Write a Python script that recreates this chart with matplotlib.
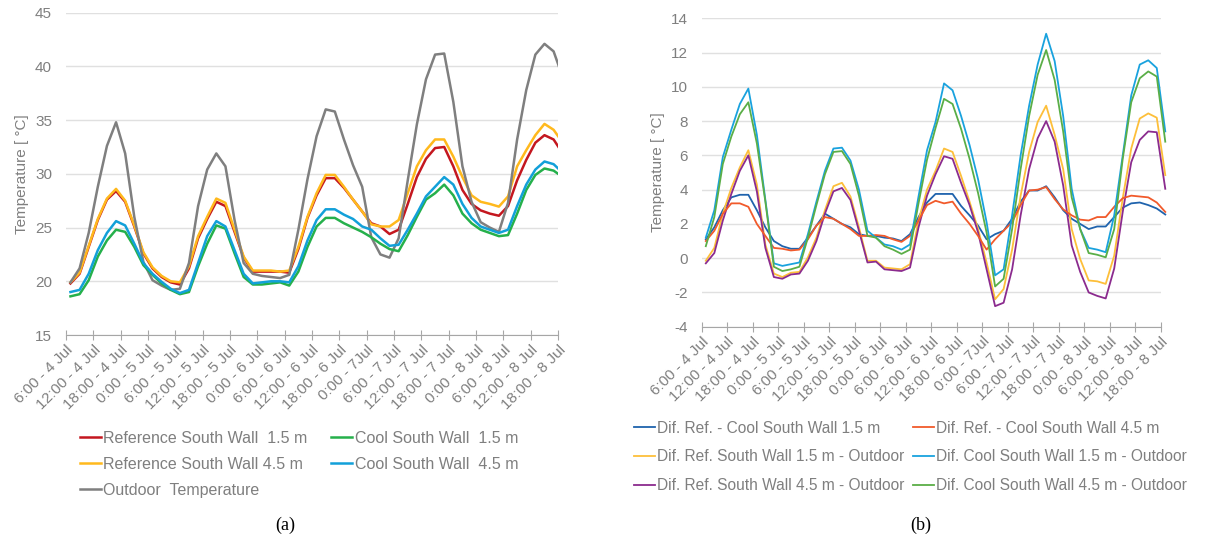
import numpy as np
import matplotlib
matplotlib.use('Agg')
import matplotlib.pyplot as plt

plt.rcParams['font.family'] = ['Liberation Sans', 'DejaVu Sans']
plt.rcParams['axes.unicode_minus'] = False

# hours after 6:00 on 4 Jul (one reading every 2 h)
hours = np.arange(1, 110, 2)
tick_hours = np.arange(0, 109, 6)
tick_labels = ['6:00 - 4 Jul', '12:00 - 4 Jul', '18:00 - 4 Jul', '0:00 - 5 Jul',
               '6:00 - 5 Jul', '12:00 - 5 Jul', '18:00 - 5 Jul', '0:00 - 6 Jul',
               '6:00 - 6 Jul', '12:00 - 6 Jul', '18:00 - 6 Jul', '0:00 - 7Jul',
               '6:00 - 7 Jul', '12:00 - 7 Jul', '18:00 - 7 Jul', '0:00 - 8 Jul',
               '6:00 - 8 Jul', '12:00 - 8 Jul', '18:00 - 8 Jul']

# (a) temperatures, degC
ref_15 = [19.8, 20.7, 23.2, 25.7, 27.6, 28.4, 27.4, 25.1, 22.6, 21.2, 20.4, 19.9, 19.7, 21.2,
          24.0, 25.8, 27.4, 27.0, 24.6, 22.2, 20.9, 20.9, 20.9, 20.9, 20.8, 23.0, 25.9, 28.0,
          29.6, 29.6, 28.7, 27.6, 26.5, 25.4, 25.1, 24.4, 24.8, 27.2, 29.7, 31.4, 32.4, 32.5,
          30.7, 28.5, 27.2, 26.6, 26.3, 26.1, 27.0, 29.4, 31.3, 32.9, 33.6, 33.2, 31.9]
ref_45 = [19.9, 20.8, 23.3, 25.8, 27.7, 28.6, 27.5, 25.2, 22.7, 21.3, 20.5, 20.0, 19.9, 21.4,
          24.2, 26.0, 27.7, 27.3, 24.8, 22.3, 21.0, 21.0, 21.0, 20.9, 21.0, 23.2, 26.0, 28.2,
          29.9, 29.9, 28.8, 27.6, 26.5, 25.3, 25.1, 25.1, 25.7, 28.2, 30.7, 32.2, 33.2, 33.2,
          31.6, 29.7, 28.0, 27.4, 27.2, 26.95, 27.9, 30.7, 32.2, 33.6, 34.65, 34.1, 32.9]
cool_15 = [18.6, 18.8, 20.1, 22.3, 23.8, 24.8, 24.6, 23.2, 21.5, 20.6, 19.8, 19.2, 18.8, 19.0,
           21.4, 23.5, 25.2, 24.9, 22.6, 20.4, 19.7, 19.7, 19.8, 19.9, 19.6, 20.9, 23.2, 25.1,
           25.9, 25.9, 25.4, 25.0, 24.6, 24.1, 23.5, 23.0, 22.8, 24.3, 26.0, 27.6, 28.2, 29.0,
           28.0, 26.3, 25.4, 24.8, 24.5, 24.2, 24.3, 26.3, 28.5, 29.9, 30.5, 30.3, 29.7]
cool_45 = [19.0, 19.2, 20.7, 22.9, 24.5, 25.6, 25.2, 23.5, 21.7, 20.7, 19.95, 19.3, 18.9, 19.2,
           21.7, 24.2, 25.6, 25.1, 22.9, 20.7, 19.8, 19.9, 20.0, 20.0, 19.9, 21.4, 23.8, 25.7,
           26.7, 26.7, 26.2, 25.8, 25.1, 24.8, 24.0, 23.3, 23.4, 24.8, 26.3, 27.9, 28.8, 29.7,
           29.0, 27.2, 25.9, 25.1, 24.8, 24.5, 24.8, 27.0, 29.0, 30.4, 31.15, 30.9, 30.1]
outdoor = [19.9, 21.2, 24.5, 28.8, 32.6, 34.8, 31.9, 26.0, 21.8, 20.1, 19.6, 19.2, 19.3, 21.7,
           27.0, 30.4, 31.9, 30.7, 25.7, 21.7, 20.7, 20.5, 20.4, 20.3, 20.6, 24.8, 29.5, 33.5,
           36.0, 35.8, 33.2, 30.8, 28.8, 24.1, 22.5, 22.2, 24.0, 29.4, 34.6, 38.8, 41.1, 41.2,
           36.7, 30.7, 27.4, 25.5, 25.0, 24.6, 27.3, 33.2, 37.8, 41.1, 42.1, 41.4, 39.0]

# (b) temperature differences, degC
d_refcool_15 = [1.1, 1.8, 2.8, 3.55, 3.7, 3.7, 2.8, 1.8, 1.0, 0.7, 0.55, 0.55, 1.2, 1.9,
                2.6, 2.3, 2.0, 1.8, 1.4, 1.3, 1.3, 1.2, 1.15, 1.0, 1.4, 2.4, 3.25, 3.75,
                3.75, 3.75, 3.05, 2.5, 1.9, 1.1, 1.4, 1.6, 2.3, 3.3, 3.95, 3.95, 4.2, 3.55,
                2.8, 2.3, 2.0, 1.7, 1.85, 1.85, 2.4, 2.95, 3.2, 3.25, 3.1, 2.9, 2.55]
d_refcool_45 = [1.0, 1.6, 2.6, 3.2, 3.2, 3.0, 2.0, 1.3, 0.6, 0.55, 0.45, 0.5, 1.1, 1.9,
                2.4, 2.3, 2.0, 1.7, 1.3, 1.3, 1.35, 1.3, 1.1, 0.95, 1.3, 2.2, 3.1, 3.35,
                3.2, 3.3, 2.6, 2.0, 1.3, 0.5, 1.1, 1.6, 2.1, 3.1, 3.95, 4.0, 4.15, 3.45,
                2.85, 2.5, 2.25, 2.2, 2.4, 2.4, 3.0, 3.5, 3.65, 3.6, 3.55, 3.25, 2.7]
d_ref15_out = [-0.15, 0.6, 2.6, 4.1, 5.3, 6.3, 4.3, 0.8, -0.9, -1.1, -0.85, -0.8, 0.05, 1.2,
               2.8, 4.2, 4.4, 3.6, 1.8, -0.15, -0.15, -0.55, -0.6, -0.65, -0.35, 2.2, 4.0, 5.1,
               6.4, 6.2, 4.8, 3.3, 1.7, -0.25, -2.4, -1.8, 0.5, 3.65, 6.2, 7.95, 8.9, 7.2,
               5.2, 1.7, -0.05, -1.3, -1.35, -1.5, 0.15, 3.5, 6.4, 8.15, 8.45, 8.2, 4.85]
d_cool15_out = [1.2, 2.8, 5.9, 7.5, 9.0, 9.9, 7.2, 3.4, -0.3, -0.45, -0.35, -0.25, 1.4, 3.3,
                5.1, 6.4, 6.45, 5.7, 4.0, 1.6, 1.2, 0.8, 0.7, 0.5, 0.8, 3.6, 6.3, 7.95,
                10.2, 9.8, 8.3, 6.6, 4.6, 2.1, -1.0, -0.65, 2.5, 6.0, 8.9, 11.3, 13.1, 11.5,
                8.3, 4.05, 1.7, 0.6, 0.5, 0.35, 2.5, 6.0, 9.5, 11.3, 11.55, 11.1, 7.4]
d_ref45_out = [-0.3, 0.3, 2.2, 3.75, 5.1, 6.0, 3.9, 0.6, -1.1, -1.2, -0.95, -0.9, -0.15, 1.0,
               2.6, 3.9, 4.1, 3.4, 1.6, -0.25, -0.2, -0.65, -0.7, -0.75, -0.55, 1.8, 3.65, 4.9,
               5.95, 5.8, 4.4, 3.1, 1.5, -0.65, -2.8, -2.6, -0.65, 2.5, 5.2, 7.0, 8.0, 6.8,
               4.25, 0.75, -0.8, -2.0, -2.2, -2.35, -0.6, 2.7, 5.6, 6.9, 7.4, 7.35, 4.05]
d_cool45_out = [0.7, 2.4, 5.5, 7.1, 8.4, 9.1, 6.7, 3.3, -0.5, -0.75, -0.65, -0.5, 1.2, 3.1,
                4.9, 6.2, 6.25, 5.5, 3.65, 1.3, 1.2, 0.7, 0.5, 0.25, 0.5, 3.2, 5.75, 7.6,
                9.3, 9.0, 7.55, 5.8, 3.8, 1.5, -1.65, -1.2, 1.7, 5.2, 8.3, 10.7, 12.15, 10.4,
                7.4, 3.55, 1.7, 0.3, 0.2, 0.05, 1.7, 5.8, 9.1, 10.5, 10.9, 10.6, 6.8]

text_grey = '#7f7f7f'
axis_grey = '#a6a6a6'
grid_grey = '#e0e0e0'

fig = plt.figure(figsize=(12.05, 5.42), dpi=100)
ax1 = fig.add_axes([0.0547, 0.3819, 0.4085, 0.5947])
ax2 = fig.add_axes([0.5822, 0.3972, 0.3813, 0.5690])


def style_axis(ax, yticks):
    ax.set_xlim(0, 108)
    ax.set_ylim(yticks[0], yticks[-1])
    ax.set_yticks(yticks)
    ax.set_xticks(tick_hours)
    ax.set_xticklabels(tick_labels, rotation=45, ha='right', rotation_mode='anchor')
    ax.grid(axis='y', color=grid_grey, lw=1)
    ax.set_axisbelow(True)
    for s in ['top', 'right', 'left']:
        ax.spines[s].set_visible(False)
    ax.spines['bottom'].set_color(axis_grey)
    ax.tick_params(axis='y', length=0, pad=10, labelsize=11, labelcolor=text_grey)
    ax.tick_params(axis='x', direction='inout', length=7, color=axis_grey,
                   pad=2, labelsize=11, labelcolor=text_grey)
    ax.set_ylabel('Temperature [ °C]', fontsize=11, color=text_grey, labelpad=4)


# (a)
l_r15, = ax1.plot(hours, ref_15, color='#c4171f', lw=1.8)
l_r45, = ax1.plot(hours, ref_45, color='#ffb91d', lw=1.8)
l_out, = ax1.plot(hours, outdoor, color='#7f7f7f', lw=1.8)
l_c15, = ax1.plot(hours, cool_15, color='#25b04b', lw=1.8)
l_c45, = ax1.plot(hours, cool_45, color='#12a0d9', lw=1.8)
style_axis(ax1, np.arange(15, 46, 5))

fig.legend([l_r15, l_r45, l_out, l_c15, l_c45],
           ['Reference South Wall  1.5 m', 'Reference South Wall 4.5 m', 'Outdoor  Temperature',
            'Cool South Wall  1.5 m', 'Cool South Wall  4.5 m'],
           ncol=2, loc='upper left', bbox_to_anchor=(0.066, 0.205), frameon=False,
           fontsize=11.5, labelcolor=text_grey, handlelength=1.35, handletextpad=0.15,
           columnspacing=1.45, labelspacing=0.68, borderpad=0, borderaxespad=0)

# (b)
kw = dict(lw=1.3, clip_on=False)
m1, = ax2.plot(hours, d_refcool_15, color='#1f63ad', **kw)
m3, = ax2.plot(hours, d_ref15_out, color='#fdbf3a', **kw)
m5, = ax2.plot(hours, d_ref45_out, color='#8b2b8e', **kw)
m2, = ax2.plot(hours, d_refcool_45, color='#f15a2b', **kw)
m4, = ax2.plot(hours, d_cool15_out, color='#19a2de', **kw)
m6, = ax2.plot(hours, d_cool45_out, color='#5aae47', **kw)
style_axis(ax2, np.arange(-4, 15, 2))

fig.legend([m1, m3, m5, m2, m4, m6],
           ['Dif. Ref. - Cool South Wall 1.5 m', 'Dif. Ref. South Wall 1.5 m - Outdoor',
            'Dif. Ref. South Wall 4.5 m - Outdoor', 'Dif. Ref. - Cool South Wall 4.5 m',
            'Dif. Cool South Wall 1.5 m - Outdoor', 'Dif. Cool South Wall 4.5 m - Outdoor'],
           ncol=2, loc='upper left', bbox_to_anchor=(0.526, 0.224), frameon=False,
           fontsize=11.2, labelcolor=text_grey, handlelength=1.35, handletextpad=0.15,
           columnspacing=0.55, labelspacing=0.88, borderpad=0, borderaxespad=0)

fig.text(0.2365, 0.030, '(a)', ha='center', va='center', fontsize=13,
         family=['Liberation Serif', 'DejaVu Serif'])
fig.text(0.764, 0.030, '(b)', ha='center', va='center', fontsize=13,
         family=['Liberation Serif', 'DejaVu Serif'])

fig.savefig('out.png', dpi=100)
